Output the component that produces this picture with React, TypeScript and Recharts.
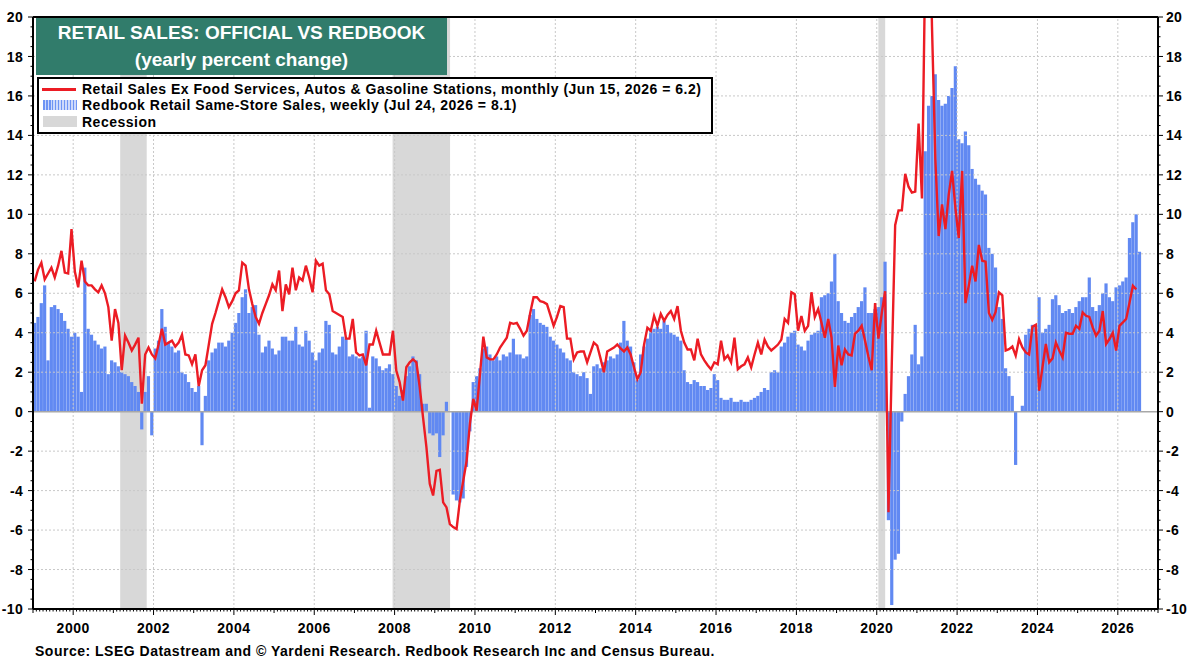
import React from "react";
import {
  ComposedChart,
  Bar,
  Line,
  XAxis,
  YAxis,
  ReferenceArea,
  ReferenceLine,
} from "recharts";

// monthly, Jan 1999 .. Jun 2026 (yearly % change)
const retailSales = [
  6.6, 7.2, 7.55, 6.7, 7.0, 7.3, 6.8, 7.4, 8.15, 7.05, 7.0, 9.25,
  7.1, 6.3, 7.65, 6.6, 6.4, 6.4, 6.2, 6.05, 6.4, 6.0, 5.3, 3.6,
  5.2, 4.5, 2.1, 3.85, 3.5, 3.1, 3.4, 3.75, 0.4, 2.9, 3.25, 2.9,
  2.7, 3.4, 4.2, 3.4, 3.5, 3.6, 3.3, 3.5, 3.9, 2.9, 2.85, 2.4,
  2.9, 1.3, 2.1, 2.35, 3.4, 4.45, 5.0, 5.6, 6.2, 5.8, 5.3, 5.6,
  6.0, 6.15, 7.55, 7.4, 6.2, 5.45, 4.8, 4.45, 5.0, 5.45, 5.9, 6.45,
  6.15, 7.15, 5.1, 6.45, 5.95, 7.3, 6.15, 6.8, 6.65, 7.4, 6.8, 6.05,
  7.65, 7.4, 7.5, 6.15, 5.95, 5.1, 5.0, 4.9, 4.8, 3.7, 3.7, 4.7,
  3.0, 2.85, 2.9, 2.35, 3.4, 3.4, 4.1, 3.5, 2.9, 2.9, 2.9, 4.1,
  2.08, 1.5, 0.56, 2.25, 2.5, 2.65, 2.5, 1.25, -0.3, -1.8, -3.65, -4.25,
  -3.0, -2.95, -4.6, -4.85, -5.7, -5.85, -5.95, -4.5, -3.5, -2.5, -0.6, 0.65,
  0.05, 1.9, 3.8, 2.75, 2.65, 2.65, 2.9, 3.25, 3.5, 3.75, 4.5, 4.45,
  4.5, 4.2, 3.85, 4.1, 5.0, 5.8, 5.8, 5.6, 5.55, 5.45, 4.9, 4.35,
  4.8, 5.35, 5.3, 3.7, 3.7, 2.65, 3.0, 3.05, 3.05, 2.5, 3.0, 3.5,
  3.35, 2.7, 2.0, 3.05, 3.15, 3.25, 3.4, 3.2, 3.05, 3.25, 2.9, 2.25,
  1.65, 2.0, 3.4, 4.25, 4.1, 4.85, 4.35, 4.95, 4.6, 4.9, 5.1, 4.7,
  5.35, 4.1, 3.5, 3.15, 3.15, 2.6, 3.7, 2.9, 2.6, 2.35, 2.15, 2.5,
  2.4, 3.6, 2.65, 2.85, 2.5, 3.75, 2.15, 2.3, 2.4, 2.75, 2.25, 2.9,
  3.5, 2.9, 3.65, 3.3, 3.1, 3.25, 3.4, 3.65, 4.7, 4.5, 6.05, 5.95,
  4.1, 4.85, 4.1, 4.35, 6.05, 4.8, 5.2, 4.5, 3.75, 4.7, 3.75, 1.25,
  3.35, 2.35, 3.15, 2.9, 2.85, 3.95, 4.1, 4.35, 3.6, 2.8, 2.1, 5.5,
  3.7, 5.0, 6.1, -5.1, 2.5, 9.45, 10.2, 10.2, 12.05, 11.4, 11.1, 11.15,
  14.6, 10.8, 23.0, 28.0, 19.5, 12.8, 8.9, 10.5, 9.25, 11.0, 12.2, 10.3,
  8.8, 12.2, 5.5, 6.4, 7.4, 6.6, 8.45, 7.65, 7.6, 5.0, 4.65, 5.05,
  6.05, 5.9, 3.1, 3.17, 3.3, 2.84, 3.68, 3.26, 3.0, 2.9, 4.3, 4.4,
  1.06, 2.25, 3.43, 2.5, 2.7, 3.5, 3.1, 2.75, 4.0, 3.95, 3.95, 4.35,
  4.2, 5.03, 4.86, 4.8, 4.27, 3.85, 4.1, 5.1, 3.43, 3.68, 4.0, 3.1,
  4.35, 4.52, 4.7, 5.53, 6.38, 6.2,
];

const redbook = [
  4.5, 4.8, 5.5, 6.4, 2.6, 5.3, 5.4, 5.2, 5.0, 4.6, 4.2, 3.8,
  4.0, 3.8, 1.0, 7.3, 4.2, 3.9, 3.6, 3.4, 3.2, 3.3, 1.9, 2.6,
  2.5, 2.3, 2.0, 1.9, 1.8, 1.5, 1.3, 1.0, -0.9, 1.0, 1.8, -1.2,
  3.2, 3.6, 5.2, 4.3, 3.5, 3.3, 3.0, 3.1, 2.0, 1.9, 1.5, 1.2,
  1.0, 1.3, -1.7, 0.8, 2.6, 3.0, 3.2, 3.5, 3.5, 3.3, 3.6, 4.0,
  4.5, 5.0, 5.8, 6.2, 5.0, 5.3, 5.4, 3.9, 3.0, 3.3, 3.6, 3.2,
  2.9, 3.1, 3.8, 3.8, 3.6, 3.6, 4.3, 3.4, 3.3, 4.1, 3.6, 3.0,
  2.6, 3.0, 3.2, 4.6, 4.4, 3.0, 2.9, 3.3, 3.8, 3.7, 2.8, 2.9,
  2.8, 2.7, 2.8, 4.1, 0.2, 2.8, 2.7, 2.3, 2.1, 2.2, 2.4, 1.9,
  1.3, 0.8, 1.1, 1.8, 2.3, 2.8, 2.6, 1.9, 0.4, 0.4, -1.1, -1.2,
  -1.1, -2.3, -1.2, 0.5, 0.0, -4.2, -4.5, -4.6, -4.4, -2.8, -1.0, 1.5,
  1.8, 2.2, 3.2, 3.3, 2.9, 2.6, 2.8, 2.6, 2.9, 2.8, 3.0, 3.7,
  2.9, 2.9, 2.7, 2.8, 4.9, 5.2, 4.7, 4.5, 4.4, 4.3, 3.8, 3.6,
  3.4, 3.2, 3.0, 2.7, 2.6, 2.0, 1.9, 1.8, 2.0, 1.7, 0.9, 2.3,
  2.4, 2.2, 2.5, 2.6, 2.8, 2.7, 2.9, 3.5, 4.6, 3.6, 3.3, 2.5,
  1.6, 2.9, 3.3, 3.7, 4.1, 4.2, 4.3, 4.2, 4.6, 4.4, 4.0, 3.9,
  3.8, 3.6, 2.1, 1.5, 1.4, 1.6, 1.5, 1.3, 1.3, 1.1, 1.2, 1.9,
  1.6, 0.7, 0.6, 0.6, 0.7, 0.5, 0.5, 0.6, 0.5, 0.5, 0.6, 0.7,
  0.8, 1.0, 1.2, 1.1, 2.0, 2.1, 2.0, 3.3, 3.5, 3.8, 4.0, 4.1,
  3.4, 3.3, 3.1, 3.6, 3.9, 4.0, 4.1, 5.8, 5.9, 6.0, 6.6, 8.0,
  5.6, 5.0, 4.6, 4.5, 4.8, 5.0, 5.3, 5.6, 6.3, 5.0, 5.0, 5.2,
  5.3, 5.8, 7.6, -5.5, -9.8, -7.5, -7.2, -0.5, 0.9, 1.8, 2.9, 4.4,
  2.4, 2.8, 13.2, 15.5, 16.0, 17.1, 15.8, 15.5, 15.6, 16.0, 16.4, 17.5,
  13.8, 13.6, 14.2, 13.5, 12.3, 11.8, 11.5, 11.2, 11.0, 8.3, 8.0, 7.3,
  5.3, 4.7, 2.2, 1.8, 0.8, -2.7, 0.0, 0.3, 3.9, 4.2, 4.4, 4.4,
  5.8, 4.0, 4.2, 4.4, 5.7, 5.9, 5.4, 5.0, 5.1, 5.2, 5.0, 5.3,
  5.6, 5.8, 5.8, 6.8, 5.3, 5.1, 5.4, 6.0, 6.5, 5.8, 5.6, 6.3,
  6.4, 6.6, 6.8, 8.8, 9.6, 10.0, 8.1,
];

const recessions = [
  [2001.17, 2001.83],
  [2007.95, 2009.38],
  [2020.04, 2020.21],
];

const yearTicks = [
  2000, 2002, 2004, 2006, 2008, 2010, 2012, 2014, 2016, 2018, 2020, 2022,
  2024, 2026,
];
const valueTicks = [-8, -6, -4, -2, 2, 4, 6, 8, 10, 12, 14, 16, 18];

const data = redbook.map((rb, i) => ({
  t: 1999 + (i + 0.5) / 12,
  redbook: rb,
  retail: i < retailSales.length ? retailSales[i] : null,
}));

const monthTicks = Array.from({ length: 28 * 12 + 1 }, (_, k) => 1999 + k / 12);
const halfTicks = Array.from({ length: 61 }, (_, k) => -10 + k * 0.5);

const font = "'Liberation Sans', Arial, sans-serif";
const gridColor = "#c8c8c8";

function XTick(props: any) {
  const { x, y, payload } = props;
  const v = payload.value;
  const yr = Math.round(v);
  const isYear = Math.abs(v - yr) < 1e-6;
  const major = isYear && yr % 2 === 0;
  const len = major ? 6 : isYear ? 4 : 2.5;
  return (
    <g>
      <line x1={x} x2={x} y1={y} y2={y + len} stroke="#000" strokeWidth={1} />
      {major && (
        <text
          x={x}
          y={y + 24}
          textAnchor="middle"
          fontSize={14}
          letterSpacing={0.5}
          fontWeight="bold"
          fontFamily={font}
          fill="#000"
        >
          {yr}
        </text>
      )}
    </g>
  );
}

function YTick(props: any) {
  const { x, y, payload, side } = props;
  const v = payload.value;
  const major = Math.abs(v % 2) < 1e-6;
  const len = major ? 5 : 2.5;
  const dir = side === "left" ? -1 : 1;
  return (
    <g>
      <line x1={x} x2={x + dir * len} y1={y} y2={y} stroke="#000" strokeWidth={1} />
      {major && (
        <text
          x={x + dir * (side === "left" ? 10 : 8)}
          y={y}
          dy="0.36em"
          textAnchor={side === "left" ? "end" : "start"}
          fontSize={14}
          letterSpacing={0.3}
          fontWeight="bold"
          fontFamily={font}
          fill="#000"
        >
          {v}
        </text>
      )}
    </g>
  );
}

const legendText = {
  position: "absolute" as const,
  left: 43,
  lineHeight: "16px",
  letterSpacing: "0.5px",
};

export default function App() {
  return (
    <div
      style={{
        position: "absolute",
        left: 0,
        top: 0,
        width: 1192,
        height: 671,
        background: "#fff",
        fontFamily: font,
      }}
    >
      <ComposedChart
        width={1192}
        height={671}
        data={data}
        margin={{ top: 17, right: 4, bottom: 32, left: 3 }}
      >
        {yearTicks.map((yr) => (
          <ReferenceLine
            key={"gx" + yr}
            yAxisId="left"
            x={yr}
            stroke={gridColor}
            strokeDasharray="2 2"
          />
        ))}
        {valueTicks.map((v) => (
          <ReferenceLine
            key={"gy" + v}
            yAxisId="left"
            y={v}
            stroke={gridColor}
            strokeDasharray="2 2"
          />
        ))}
        {recessions.map(([a, b]) => (
          <ReferenceArea
            key={a}
            yAxisId="left"
            x1={a}
            x2={b}
            y1={-10}
            y2={20}
            fill="#d8d8d8"
            fillOpacity={1}
            stroke="none"
          />
        ))}
        <XAxis
          dataKey="t"
          type="number"
          domain={[1999, 2027]}
          allowDataOverflow
          ticks={monthTicks}
          interval={0}
          tickSize={0}
          tickMargin={0}
          tick={<XTick />}
          height={30}
          axisLine={{ stroke: "#000", strokeWidth: 2 }}
        />
        <YAxis
          yAxisId="left"
          orientation="left"
          width={30}
          domain={[-10, 20]}
          allowDataOverflow
          ticks={halfTicks}
          interval={0}
          tickSize={0}
          tickMargin={0}
          tick={<YTick side="left" />}
          axisLine={{ stroke: "#000", strokeWidth: 2 }}
        />
        <YAxis
          yAxisId="right"
          orientation="right"
          width={30}
          domain={[-10, 20]}
          allowDataOverflow
          ticks={halfTicks}
          interval={0}
          tickSize={0}
          tickMargin={0}
          tick={<YTick side="right" />}
          axisLine={{ stroke: "#000", strokeWidth: 2 }}
        />
        <ReferenceLine yAxisId="left" y={0} stroke="#a8a8a8" strokeWidth={1.5} />
        <Bar
          yAxisId="right"
          dataKey="redbook"
          fill="#6189f2"
          barSize={3.2}
          isAnimationActive={false}
        />
        <Line
          yAxisId="left"
          dataKey="retail"
          type="linear"
          stroke="#ec1c24"
          strokeWidth={2.4}
          dot={false}
          activeDot={false}
          isAnimationActive={false}
        />
        <ReferenceLine yAxisId="left" y={20} stroke="#000" strokeWidth={2} />
      </ComposedChart>

      <div
        style={{
          position: "absolute",
          left: 36,
          top: 18,
          width: 411,
          height: 57,
          background: "#317c6b",
          color: "#fff",
          fontWeight: "bold",
          fontSize: 19,
          textAlign: "center",
        }}
      >
        <div style={{ position: "absolute", left: 0, right: 0, top: 4, lineHeight: "22px" }}>
          RETAIL SALES: OFFICIAL VS REDBOOK
        </div>
        <div style={{ position: "absolute", left: 0, right: 0, top: 31, lineHeight: "22px" }}>
          (yearly percent change)
        </div>
      </div>

      <div
        style={{
          position: "absolute",
          left: 37,
          top: 77,
          width: 676,
          height: 57,
          boxSizing: "border-box",
          border: "2px solid #000",
          background: "#fff",
          fontSize: 14,
          fontWeight: "bold",
          color: "#000",
          whiteSpace: "nowrap",
        }}
      >
        <div
          style={{ position: "absolute", left: 3, top: 9, width: 34, height: 2.5, background: "#ec1c24" }}
        />
        <div style={{ ...legendText, top: 2 }}>
          Retail Sales Ex Food Services, Autos &amp; Gasoline Stations, monthly (Jun 15, 2026 = 6.2)
        </div>
        <div
          style={{
            position: "absolute",
            left: 4,
            top: 21,
            width: 34,
            height: 10,
            background:
              "repeating-linear-gradient(90deg, #6e94f4 0px, #6e94f4 1.5px, #cdd9fb 1.5px, #cdd9fb 3px)",
          }}
        />
        <div style={{ ...legendText, top: 18 }}>
          Redbook Retail Same-Store Sales, weekly (Jul 24, 2026 = 8.1)
        </div>
        <div
          style={{ position: "absolute", left: 4, top: 37, width: 34, height: 11, background: "#d8d8d8" }}
        />
        <div style={{ ...legendText, top: 35 }}>Recession</div>
      </div>

      <div
        style={{
          position: "absolute",
          left: 35,
          top: 643,
          fontSize: 14,
          fontWeight: "bold",
          lineHeight: "16px",
          letterSpacing: "0.5px",
          color: "#000",
          whiteSpace: "nowrap",
        }}
      >
        Source: LSEG Datastream and © Yardeni Research. Redbook Research Inc and Census Bureau.
      </div>
    </div>
  );
}
